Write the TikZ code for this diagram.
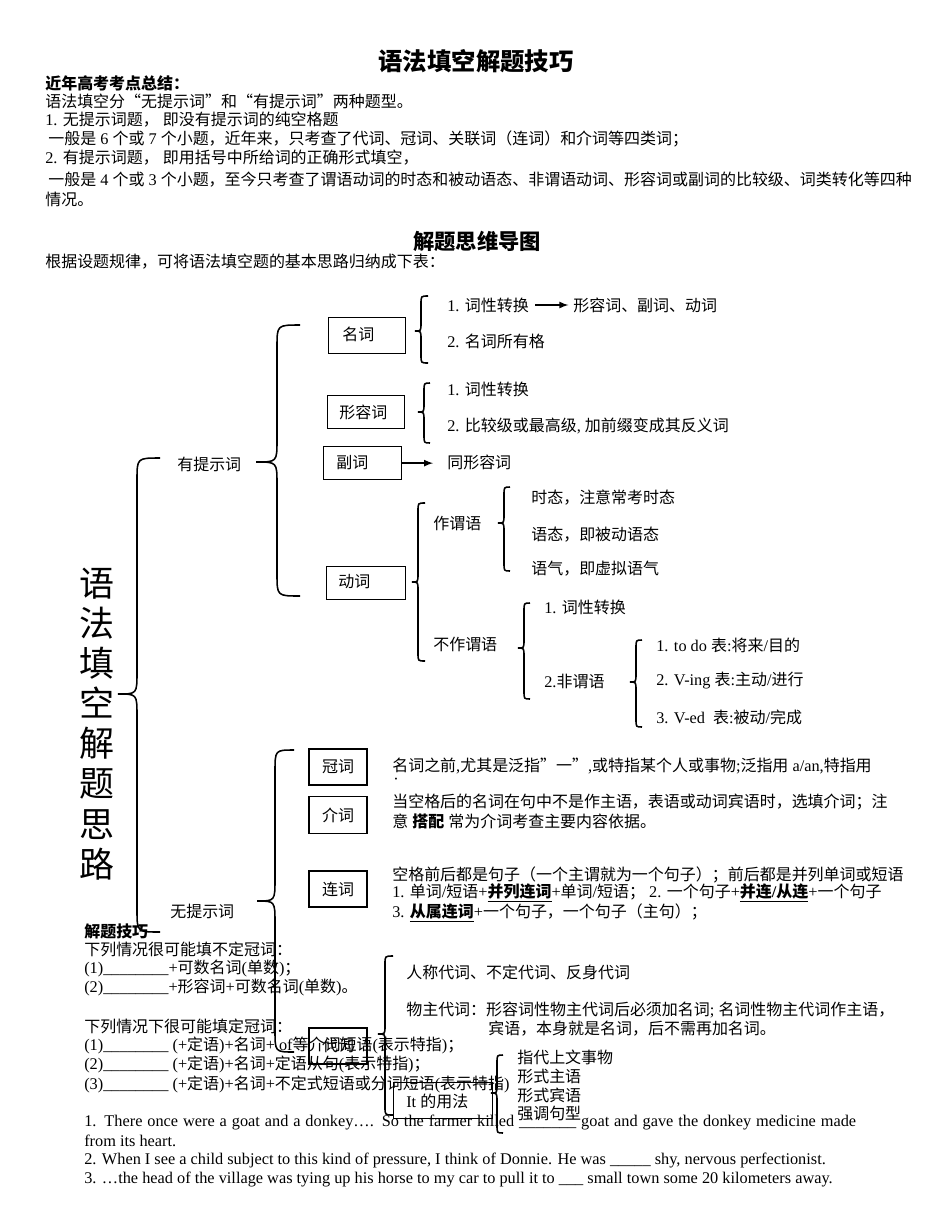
\documentclass[tikz,border=0pt]{standalone}
\usepackage{fontspec}
\setmainfont{Liberation Serif}
\newfontfamily\cjk[Scale=0.98]{Noto Sans CJK SC}
\usetikzlibrary{arrows, math, positioning}

% chinese characters switch to \cjk by themselves
\chardef\cjkcls=3
\def\setcls#1#2{\count255=#1 \loop\XeTeXcharclass\count255=\cjkcls
  \advance\count255 by 1 \ifnum\count255<#2 \repeat}
\setcls{"4E00}{"A000}
\setcls{"3000}{"3040}
\setcls{"FF00}{"FFF0}
\XeTeXcharclass"201C=\cjkcls
\XeTeXcharclass"201D=\cjkcls
\XeTeXinterchartoks 0 \cjkcls = {\cjk}
\XeTeXinterchartoks 4095 \cjkcls = {\cjk}
\XeTeXinterchartoks \cjkcls 0 = {\rmfamily}
\XeTeXinterchartoks \cjkcls 4095 = {\rmfamily}
\XeTeXinterchartokenstate=1

\newcommand\pxl{0.644pt}
\newcommand\ulb[1]{\underline{\textbf{#1}}}
\newcommand\curly[7]{%
  \draw[brc] (#1,#2) .. controls (#3,#2) .. (#3,#2+#7)
    -- (#3,#5-#7) .. controls (#3,#5) .. (#4,#5)
    .. controls (#3,#5) .. (#3,#5+#7)
    -- (#3,#6-#7) .. controls (#3,#6) .. (#1,#6);}

\begin{document}
\begin{tikzpicture}[x=0.644pt, y=-0.644pt,
  txt/.style={anchor=west, inner sep=0pt},
  box/.style={draw, line width=0.8pt, inner sep=0pt},
  brc/.style={line width=1pt},
  arr/.style={-latex, line width=1pt}]
\fontsize{10.5}{12.6}\selectfont
\tikzmath{
\rb=22;
\rs=8;
}
\useasboundingbox (0,0) rectangle (950,1230);

\node[font=\fontsize{16}{19}\selectfont\bfseries] (title) at (476,61) {语法填空解题技巧};
\node[txt, font=\bfseries] (sum) at (45,83) {近年高考考点总结：};
\node[txt] (l1) at (45,101) {语法填空分“无提示词”和“有提示词”两种题型。};
\node[txt] (l2) at (45,120) {1. 无提示词题， 即没有提示词的纯空格题};
\node[txt] (l3) at (48,139) {一般是 6 个或 7 个小题，近年来，只考查了代词、冠词、关联词（连词）和介词等四类词；};
\node[txt] (l4) at (45,158) {2. 有提示词题， 即用括号中所给词的正确形式填空，};
\node[txt] (l5) at (48,180) {一般是 4 个或 3 个小题，至今只考查了谓语动词的时态和被动语态、非谓语动词、形容词或副词的比较级、词类转化等四种};
\node[txt] (l6) at (45,199) {情况。};

\node[font=\fontsize{14}{17}\selectfont\bfseries] (sub) at (477,241) {解题思维导图};
\node[txt] (intro) at (45,262) {根据设题规律，可将语法填空题的基本思路归纳成下表：};

% left part of the map
\node[align=center, font=\fontsize{23}{25.8}\selectfont] (root) at (97,724) {语\\法\\填\\空\\解\\题\\思\\路};
\curly{160}{458}{137}{118}{694}{932}{\rb}
\node[txt] (yes) at (177,464) {有提示词};
\node[txt] (no) at (170,911) {无提示词};
\curly{300}{325}{277}{256}{462}{596}{\rb}
\curly{294}{750}{275}{257}{901}{1052}{\rb}

% with a given word
\node[box, minimum width=77*\pxl, minimum height=36*\pxl, anchor=north west] (nounbox) at (328,317) {};
\node[txt] (noun) at (342,334) {名词};
\curly{428}{296}{421}{415}{331}{363}{\rs}
\node[txt] (n1) at (447,305) {1. 词性转换};
\node[txt] (n1b) at (573,305) {形容词、副词、动词};
\draw[arr, shorten <=4pt, shorten >=3pt] (n1) -- (n1b);
\node[txt] (n2) at (447,341) {2. 名词所有格};

\node[box, minimum width=77*\pxl, minimum height=33*\pxl, anchor=north west] (adjbox) at (327,395) {};
\node[txt] (adj) at (339,412) {形容词};
\curly{430}{383}{424}{418}{412}{443}{\rs}
\node[txt] (a1) at (447,389) {1. 词性转换};
\node[txt] (a2) at (447,426) {2. 比较级或最高级, 加前缀变成其反义词};

\node[box, minimum width=78*\pxl, minimum height=33*\pxl, anchor=north west] (advbox) at (323,446) {};
\node[txt] (adv) at (336,463) {副词};
\node[txt] (same) at (447,462) {同形容词};
\draw[arr, shorten >=9pt] (advbox) -- (advbox -| same.west);

\node[box, minimum width=79*\pxl, minimum height=33*\pxl, anchor=north west] (verbbox) at (326,566) {};
\node[txt] (verb) at (338,582) {动词};
\curly{425}{503}{418}{412}{582}{661}{\rs}
\node[txt] (pred) at (433,523) {作谓语};
\curly{510}{487}{504}{498}{523}{571}{\rs}
\node[txt] (p1) at (531,498) {时态，注意常考时态};
\node[txt] (p2) at (531,535) {语态，即被动语态};
\node[txt] (p3) at (531,569) {语气，即虚拟语气};
\node[txt] (npred) at (433,644) {不作谓语};
\curly{530}{603}{524}{518}{648}{699}{\rs}
\node[txt] (q1) at (544,607) {1. 词性转换};
\node[txt] (q2) at (544,681) {2.非谓语};
\curly{642}{640}{636}{630}{682}{727}{\rs}
\node[txt] (r1) at (656,645) {1. to do 表:将来/目的};
\node[txt] (r2) at (656,681) {2. V-ing 表:主动/进行};
\node[txt] (r3) at (656,717) {3. V-ed\ \ 表:被动/完成};

% without a given word
\node[box, minimum width=58*\pxl, minimum height=36*\pxl] (art) at (338,767) {冠词};
\node[txt] (artt) at (392,766) {名词之前,尤其是泛指”一”,或特指某个人或事物;泛指用 a/an,特指用};
\node[txt] (artdot) at (393,781) {·};
\node[box, minimum width=58*\pxl, minimum height=37*\pxl] (prep) at (338,815) {介词};
\node[txt] (prept1) at (392,802) {当空格后的名词在句中不是作主语，表语或动词宾语时，选填介词；注};
\node[txt] (prept2) at (392,821) {意 \textbf{搭配} 常为介词考查主要内容依据。};
\node[box, minimum width=58*\pxl, minimum height=36*\pxl] (conj) at (338,889) {连词};
\node[txt] (conjt1) at (392,875) {空格前后都是句子（一个主谓就为一个句子）；前后都是并列单词或短语};
\node[txt] (conjt2) at (392,893) {1. 单词/短语+\ulb{并列连词}+单词/短语； 2. 一个句子+\ulb{并连/从连}+一个句子};
\node[txt] (conjt3) at (392,913) {3. \ulb{从属连词}+一个句子，一个句子（主句）；};

\node[box, minimum width=58*\pxl, minimum height=36*\pxl] (pron) at (338,1046) {代词};
\curly{393}{956}{385}{378}{1034}{1115}{\rs}
\node[txt] (pr1) at (406,972) {人称代词、不定代词、反身代词};
\node[txt] (pr2) at (406,1010) {物主代词：形容词性物主代词后必须加名词; 名词性物主代词作主语，};
\node[txt] (pr3) at (488,1029) {宾语，本身就是名词，后不需再加名词。};

\node[box, minimum width=99*\pxl, minimum height=36*\pxl, anchor=north west] (itbox) at (393,1082) {};
\node[txt] (it) at (406,1101) {It 的用法};
\curly{503}{1055}{497}{491}{1093}{1133}{\rs}
\node[txt] (it1) at (517,1057) {指代上文事物};
\node[txt] (it2) at (517,1076) {形式主语};
\node[txt] (it3) at (517,1095) {形式宾语};
\node[txt] (it4) at (517,1113) {强调句型};

% tips on articles
\node[txt, font=\bfseries] (tips) at (84,931) {解题技巧};
\node[txt] (t1) at (84,949) {下列情况很可能填不定冠词：};
\node[txt] (t2) at (84,968) {(1)\_\_\_\_\_\_\_\_+可数名词(单数)；};
\node[txt] (t3) at (84,987) {(2)\_\_\_\_\_\_\_\_+形容词+可数名词(单数)。};
\node[txt] (t4) at (84,1026) {下列情况下很可能填定冠词：};
\node[txt] (t5) at (84,1045) {(1)\_\_\_\_\_\_\_\_ (+定语)+名词+ of等介词短语(表示特指)；};
\node[txt] (t6) at (84,1064) {(2)\_\_\_\_\_\_\_\_ (+定语)+名词+定语从句(表示特指)；};
\node[txt] (t7) at (84,1084) {(3)\_\_\_\_\_\_\_\_ (+定语)+名词+不定式短语或分词短语(表示特指)};

\node[txt] (e1) at (84,1123) {\makebox[497pt][s]{1. There once were a goat and a donkey…. So the farmer killed \_\_\_\_\_\_\_ goat and gave the donkey medicine made}};
\node[txt] (e1b) at (84,1141) {from its heart.};
\node[txt] (e2) at (84,1161) {2. When I see a child subject to this kind of pressure, I think of Donnie. He was \_\_\_\_\_ shy, nervous perfectionist.};
\node[txt] (e3) at (84,1180) {3. …the head of the village was tying up his horse to my car to pull it to \_\_\_ small town some 20 kilometers away.};
\end{tikzpicture}
\end{document}
